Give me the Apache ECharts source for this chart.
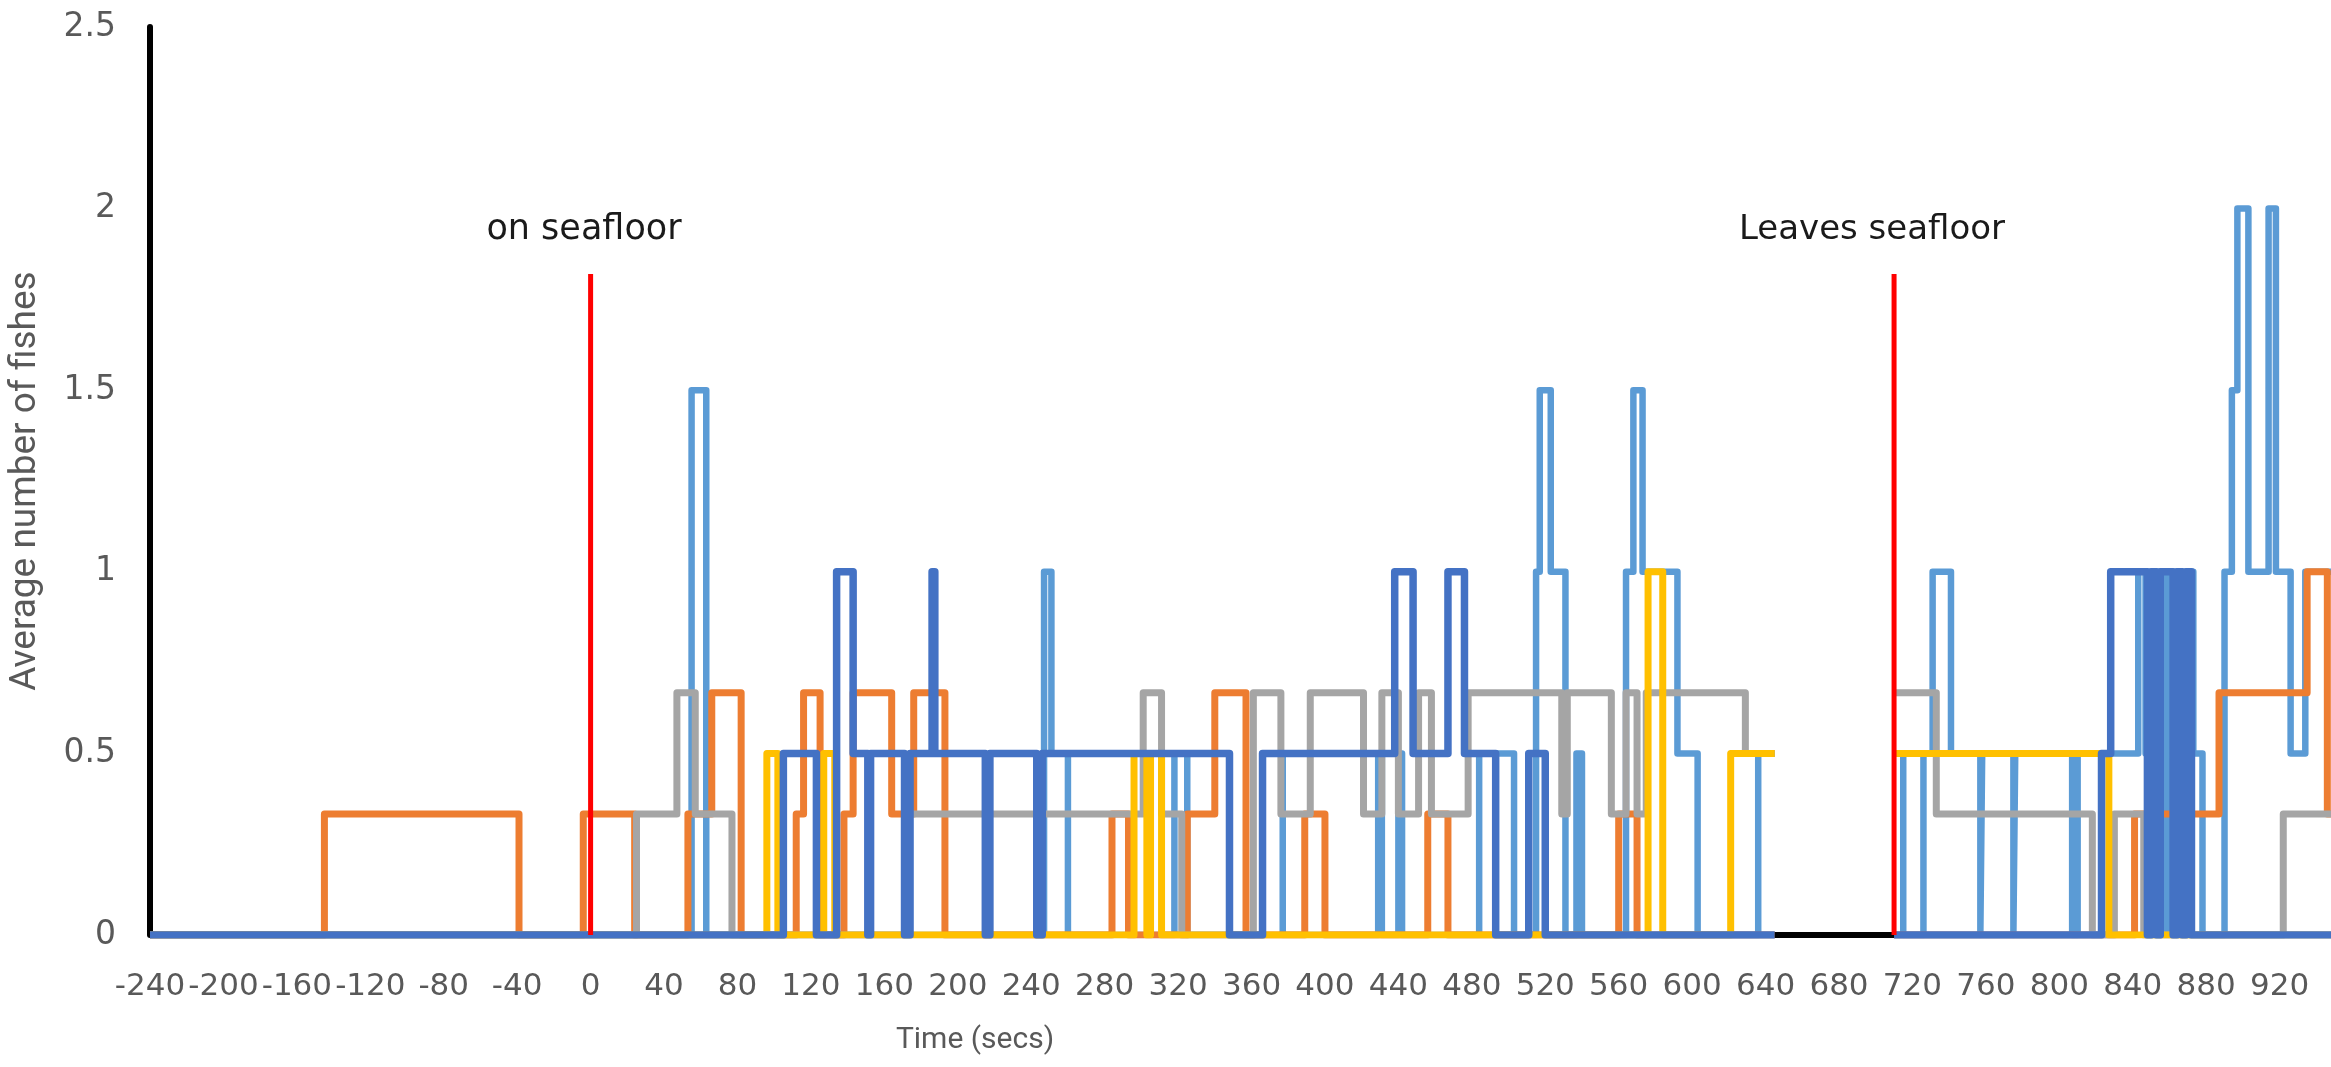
<!DOCTYPE html>
<html>
<head>
<meta charset="utf-8">
<script src="https://cdn.jsdelivr.net/npm/echarts@6/dist/echarts.min.js"></script>
<style>
html,body{margin:0;padding:0;background:#fff;}
#chart{width:2331px;height:1067px;}
</style>
</head>
<body>
<div id="chart"></div>
<script>
// ---- data: [time (s), average number of fishes] change points (value holds until next point) ----
const lightBlue = [[-240,0],[55,1.5],[63,0],[247,1],[251,0.5],[260,0],[318,0.5],[325,0],[366,0.5],[377,0],[429,0.5],[431,0],[440,0.5],[442,0],[484,0.5],[503,0],[515,1],[517,1.5],[523,1],[531,0],[537,0.5],[540,0],[564,1],[568,1.5],[573,1],[592,0.5],[603,0],[636,0.5],[645,0.5],[645.2,null],[710,0.5],[715,0],[726,0.5],[731,1],[741,0.5],[757,0],[758,0.5],[775,0],[776,0.5],[807,0],[810,0.5],[843,1],[847,0.5],[849,1],[857,0],[860,1],[873,0.5],[878,0],[890,1],[894,1.5],[897,2],[903,1],[914,2],[918,1],[926,0.5],[934,1],[948,1]];
const orange = [[-240,0],[-145,0.333],[-39,0],[-4,0.333],[24,0],[53,0.333],[66,0.667],[82,0],[112,0.333],[116,0.667],[125,0],[138,0.333],[143,0.667],[164,0.333],[176,0.667],[193,0],[284,0.333],[293,0],[325,0.333],[340,0.667],[357,0],[389,0.333],[400,0],[456,0.333],[467,0],[560,0.333],[570,0],[645,0],[645.2,null],[710,0],[841,0.333],[887,0.667],[935,1],[946,0.333],[948,0.333]];
const gray = [[-240,0],[25,0.333],[47,0.667],[57,0.333],[77,0],[173,0.333],[301,0.667],[311,0.333],[322,0],[361,0.667],[376,0.333],[392,0.667],[421,0.333],[431,0.667],[440,0.333],[451,0.667],[458,0.333],[478,0.667],[529,0.333],[532,0.667],[556,0.333],[564,0.667],[570,0.333],[575,0.667],[629,0.5],[645,0.5],[645.2,null],[710,0.667],[733,0.333],[818,0],[830,0.333],[846,0],[922,0.333],[948,0.333]];
const yellow = [[-240,0],[96,0.5],[102,0],[127,0.5],[133,0],[296,0.5],[303,0],[305,0.5],[311,0],[576,1],[584,0],[621,0.5],[645,0.5],[645.2,null],[710,0.5],[827,0],[948,0]];
const darkBlue = [[-240,0],[105,0.5],[123,0],[134,1],[143,0.5],[151,0],[152.5,0.5],[171,0],[174,0.5],[186,1],[187.5,0.5],[215,0],[217.5,0.5],[243,0],[246,0.5],[348,0],[366,0.5],[438,1],[448,0.5],[467,1],[476,0.5],[493,0],[511,0.5],[520,0],[645,0],[645.2,null],[710,0],[823,0.5],[828,1],[848,0],[850,1],[853,0],[855,1],[862,0],[864,1],[867,0],[869,1],[872,0],[948,0]];
const noData = [[645,0],[710,0]];
const onSeafloorMark = [[0,0],[0,1.82]];
const leavesSeafloorMark = [[710,0],[710,1.82]];
const xTicks = {min:-240, max:948, step:40};
const yTicks = {min:0, max:2.5, step:0.5};

const chart = echarts.init(document.getElementById('chart'), null, {renderer:'canvas'});
const labelFont = '"DejaVu Sans", Verdana, sans-serif';
function stepSeries(data, color, width, z){
  return {type:'line', step:'end', data:data, showSymbol:false, symbol:'none', connectNulls:false,
    lineStyle:{color:color, width:width, join:'round'}, z:z, silent:true};
}
function plainSeries(data, color, width, z){
  return {type:'line', data:data, showSymbol:false, symbol:'none',
    lineStyle:{color:color, width:width}, z:z, silent:true};
}
chart.setOption({
  animation:false,
  backgroundColor:'#ffffff',
  grid:{left:150, right:0, top:27, bottom:132, containLabel:false},
  xAxis:{type:'value', min:xTicks.min, max:xTicks.max, interval:xTicks.step,
    axisLine:{show:false}, axisTick:{show:false}, splitLine:{show:false},
    axisLabel:{fontSize:31, color:'#595959', margin:36, fontFamily:labelFont, showMaxLabel:false}},
  yAxis:{type:'value', min:yTicks.min, max:yTicks.max, interval:yTicks.step,
    axisLine:{show:true, onZero:false, lineStyle:{color:'#000000', width:6}},
    axisTick:{show:false}, splitLine:{show:false},
    axisLabel:{fontSize:33, color:'#595959', margin:34, fontFamily:labelFont}},
  series:[
    stepSeries(lightBlue, '#5B9BD5', 6.5, 2),
    stepSeries(orange, '#ED7D31', 7, 3),
    stepSeries(gray, '#A5A5A5', 7, 4),
    stepSeries(yellow, '#FFC000', 7, 5),
    stepSeries(darkBlue, '#4472C4', 7.5, 6),
    plainSeries(noData, '#000000', 6, 7),
    plainSeries(onSeafloorMark, '#FF0000', 5, 8),
    plainSeries(leavesSeafloorMark, '#FF0000', 5, 8)
  ],
  graphic:[
    {type:'text', x:584, y:230, z:20, style:{text:'on seafloor', fill:'#1a1a1a', font:'35px "DejaVu Sans", sans-serif', textAlign:'center', textVerticalAlign:'middle'}},
    {type:'text', x:1872, y:230, z:20, style:{text:'Leaves seafloor', fill:'#1a1a1a', font:'34px "DejaVu Sans", sans-serif', textAlign:'center', textVerticalAlign:'middle'}},
    {type:'text', x:975, y:1040, z:20, style:{text:'Time (secs)', fill:'#595959', font:'30px Roboto, "Liberation Sans", sans-serif', textAlign:'center', textVerticalAlign:'middle'}},
    {type:'text', x:26, y:481, rotation:Math.PI/2, z:20, style:{text:'Average number of fishes', fill:'#595959', font:'37px Roboto, "Liberation Sans", sans-serif', textAlign:'center', textVerticalAlign:'middle'}}
  ]
});
</script>
</body>
</html>
